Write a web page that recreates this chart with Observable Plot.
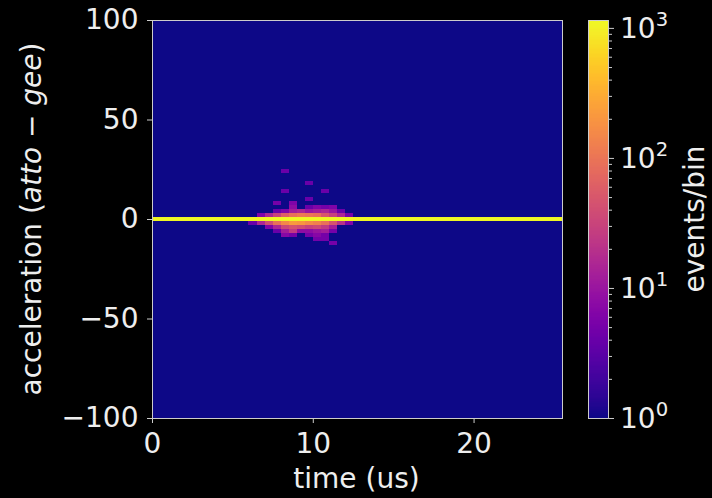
<!DOCTYPE html>
<html><head><meta charset="utf-8">
<script src="https://cdn.jsdelivr.net/npm/d3@7"></script>
<script src="https://cdn.jsdelivr.net/npm/@observablehq/plot@0.6"></script>
<style>
html,body{margin:0;padding:0;background:#000;}
#wrap{position:relative;width:712px;height:498px;background:#000;overflow:hidden;}
#wrap svg{position:absolute;left:0;top:0;}
</style></head><body><div id="wrap"></div>
<script>
// ---- data ----
const xMax = 25.5;            // time axis upper limit (us)
const binWidthX = 0.5;        // us
const binHeightY = 2;         // atto-gee
const xTicks = [0, 10, 20];
const yTicks = [-100, -50, 0, 50, 100];
const colorMax = 1150;        // events/bin at top of colour bar
const colorTicks = [1, 10, 100, 1000];
const colorTickExp = ["0", "1", "2", "3"];
const colorMinorTicks = [2,3,4,5,6,7,8,9,20,30,40,50,60,70,80,90,200,300,400,500,600,700,800,900];
const backgroundCount = 1;    // empty bins
const baselineCount = 1100;   // the row at acceleration 0, all along time
// blob of events around t ~ 9.5 us
const blobXLeft = [6.0, 6.5, 7.0, 7.5, 8.0, 8.5, 9.0, 9.5, 10.0, 10.5, 11.0, 11.5, 12.0];
const blobY = [24, 18, 14, 10, 8, 6, 4, 2, -2, -4, -6, -8, -10, -12];
const blobCounts = [
  [0, 0, 0, 0, 4, 0, 0, 0, 0, 0, 0, 0, 0],
  [0, 0, 0, 0, 0, 0, 0, 4, 0, 0, 0, 0, 0],
  [0, 0, 0, 0, 4, 0, 0, 0, 0, 4, 0, 0, 0],
  [0, 0, 0, 0, 0, 0, 0, 4, 0, 0, 0, 0, 0],
  [0, 0, 0, 5, 0, 6, 0, 0, 0, 0, 0, 0, 0],
  [0, 0, 0, 0, 0, 8, 0, 4, 6, 5, 6, 0, 0],
  [0, 0, 0, 4, 6, 12, 15, 10, 12, 15, 10, 4, 0],
  [0, 6, 15, 30, 60, 90, 110, 100, 90, 50, 30, 15, 5],
  [4, 15, 40, 90, 150, 220, 200, 150, 130, 90, 45, 20, 6],
  [0, 0, 6, 15, 35, 45, 40, 30, 35, 25, 12, 0, 0],
  [0, 0, 0, 4, 12, 25, 8, 8, 10, 12, 5, 0, 0],
  [0, 0, 0, 0, 7, 5, 0, 5, 7, 5, 0, 0, 0],
  [0, 0, 0, 0, 0, 0, 0, 0, 5, 5, 0, 0, 0],
  [0, 0, 0, 0, 0, 0, 0, 0, 0, 0, 5, 0, 0]
];

// ---- build tables ----
const cells = [];
blobY.forEach((y, i) => blobXLeft.forEach((x, j) => {
  const c = blobCounts[i][j];
  if (c > 0) cells.push({x1: x, x2: x + binWidthX, y1: y - binHeightY / 2, y2: y + binHeightY / 2, count: c});
}));
const background = [{x1: 0, x2: xMax, y1: -100, y2: 100, count: backgroundCount}];
const baseline = [{x1: 0, x2: xMax, y1: -binHeightY / 2, y2: binHeightY / 2, count: baselineCount}];

const textColor = "#eeeeee";
const lineColor = "#cccccc";
const font = "DejaVu Sans, sans-serif";
const fs = 28;
const colorScale = {type: "log", domain: [1, colorMax], scheme: "plasma"};

const minus = d => d < 0 ? "\u2212" + Math.abs(d) : String(d);

const main = Plot.plot({
  width: 712, height: 498,
  marginLeft: 152, marginRight: 150, marginTop: 20, marginBottom: 80,
  style: {background: "#000", color: textColor, fontFamily: font, fontSize: fs + "px"},
  x: {domain: [0, xMax]},
  y: {domain: [-100, 100]},
  color: colorScale,
  marks: [
    Plot.rect(background, {x1: "x1", x2: "x2", y1: "y1", y2: "y2", fill: "count"}),
    Plot.rect(cells, {x1: "x1", x2: "x2", y1: "y1", y2: "y2", fill: "count", shapeRendering: "crispEdges"}),
    Plot.rect(baseline, {x1: "x1", x2: "x2", y1: "y1", y2: "y2", fill: "count"}),
    Plot.frame({stroke: lineColor}),
    Plot.axisX({ticks: xTicks, tickSize: 5, tickPadding: 10, label: null, stroke: lineColor, fill: textColor, tickFormat: minus}),
    Plot.axisY({ticks: yTicks, tickSize: 5, tickPadding: 9, label: null, stroke: lineColor, fill: textColor, tickFormat: minus})
  ]
});

// colour bar gradient steps (legend only)
const steps = 300;
const grad = d3.range(steps).map(i => ({
  lo: Math.pow(colorMax, i / steps),
  hi: Math.pow(colorMax, (i + 1.02) / steps),
  v: Math.pow(colorMax, (i + 0.5) / steps)
}));

const bar = Plot.plot({
  width: 712, height: 498,
  marginLeft: 588, marginRight: 104, marginTop: 20, marginBottom: 80,
  style: {background: "transparent", color: textColor, fontFamily: font, fontSize: fs + "px"},
  x: {domain: [0, 1], axis: null},
  y: {type: "log", domain: [1, colorMax], axis: null},
  color: colorScale,
  marks: [
    Plot.rect(grad, {x1: 0, x2: 1, y1: "lo", y2: "hi", fill: "v", shapeRendering: "crispEdges"}),
    Plot.frame({stroke: lineColor}),
    Plot.axisY(colorMinorTicks, {anchor: "right", tickSize: 3, tickFormat: () => "", stroke: lineColor}),
    Plot.axisY(colorTicks, {anchor: "right", tickSize: 5, tickFormat: () => "", stroke: lineColor})
  ]
});

const wrap = document.getElementById("wrap");
wrap.appendChild(main);
wrap.appendChild(bar);

// axis titles
const ms = d3.select(main);
const yl = ms.append("text")
  .attr("transform", "translate(31,219) rotate(-90)")
  .attr("text-anchor", "middle").attr("dominant-baseline", "central")
  .attr("fill", textColor).attr("font-size", fs + "px").attr("font-family", font);
yl.append("tspan").text("acceleration (");
yl.append("tspan").attr("font-style", "italic").text("atto");
yl.append("tspan").text(" \u2212 ");
yl.append("tspan").attr("font-style", "italic").text("gee");
yl.append("tspan").text(")");

ms.append("text")
  .attr("x", 356.5).attr("y", 488)
  .attr("text-anchor", "middle")
  .attr("fill", textColor).attr("font-size", fs + "px").attr("font-family", font)
  .text("time (us)");

// colour bar tick labels (10^n with superscript), placed with the bar's own scale
const bs = d3.select(bar);
const ys = bar.scale("y");
colorTicks.forEach((v, i) => {
  const t = bs.append("text")
    .attr("x", 620).attr("y", ys.apply(v)).attr("dy", "0.36em")
    .attr("text-anchor", "start")
    .attr("fill", textColor).attr("font-size", fs + "px").attr("font-family", font);
  t.append("tspan").text("10");
  t.append("tspan").attr("font-size", (fs * 0.7) + "px").attr("dy", "-0.62em").text(colorTickExp[i]);
});

bs.append("text")
  .attr("transform", "translate(694,219) rotate(-90)")
  .attr("text-anchor", "middle").attr("dominant-baseline", "central")
  .attr("fill", textColor).attr("font-size", fs + "px").attr("font-family", font)
  .text("events/bin");
</script>
</body></html>
